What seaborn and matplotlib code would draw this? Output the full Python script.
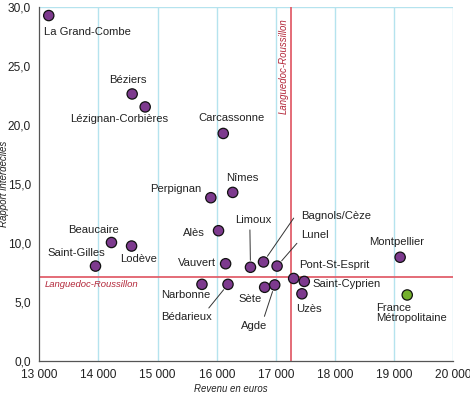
import pandas as pd
import matplotlib
matplotlib.use('Agg')
import matplotlib.pyplot as plt
import matplotlib.ticker as mticker
import seaborn as sns

# Data
villes = ['La Grand-Combe', 'Béziers', 'Lézignan-Corbières', 'Carcassonne', 'Nîmes',
          'Perpignan', 'Alès', 'Beaucaire', 'Lodève', 'Saint-Gilles', 'Vauvert',
          'Narbonne', 'Bédarieux', 'Limoux', 'Bagnols/Cèze', 'Lunel', 'Sète', 'Agde',
          'Pont-St-Esprit', 'Saint-Cyprien', 'Uzès', 'Montpellier', 'France\nMétropolitaine']
revenu = [13160, 14570, 14790, 16110, 16270, 15900, 16030, 14220, 14560, 13950, 16150,
          15750, 16190, 16570, 16790, 17020, 16810, 16980, 17300, 17480, 17440, 19100, 19220]
rapport = [29.3, 22.65, 21.55, 19.3, 14.3, 13.85, 11.05, 10.05, 9.75, 8.05, 8.25,
           6.5, 6.5, 7.95, 8.4, 8.05, 6.25, 6.45, 7.0, 6.75, 5.7, 8.8, 5.6]
groupe = ['Commune'] * 22 + ['France']

ref_revenu = 17260   # Languedoc-Roussillon revenue
ref_rapport = 7.12   # Languedoc-Roussillon ratio

# label offsets in pixels (dx, dy), horizontal alignment, leader line relpos
labels = {
    'La Grand-Combe': (-5, -16, 'left', None),
    'Béziers': (-4, 14, 'center', None),
    'Lézignan-Corbières': (-26, -12, 'center', None),
    'Carcassonne': (8, 15, 'center', None),
    'Nîmes': (10, 14, 'center', None),
    'Perpignan': (-9, 9, 'right', None),
    'Alès': (-14, -2, 'right', None),
    'Beaucaire': (-18, 13, 'center', None),
    'Lodève': (7, -13, 'center', None),
    'Saint-Gilles': (-19, 13, 'center', None),
    'Vauvert': (-10, 1, 'right', None),
    'Narbonne': (-16, -11, 'center', None),
    'Bédarieux': (-41, -33, 'center', (0.86, 1.0)),
    'Limoux': (3, 47, 'center', (0.4, 0.0)),
    'Bagnols/Cèze': (38, 46, 'left', (-0.1, 0.4)),
    'Lunel': (24, 31, 'left', (-0.05, 0.0)),
    'Sète': (-15, -12, 'center', None),
    'Agde': (-21, -41, 'center', (0.85, 1.0)),
    'Pont-St-Esprit': (5, 13, 'left', None),
    'Saint-Cyprien': (8, -3, 'left', None),
    'Uzès': (7, -15, 'center', None),
    'Montpellier': (-3, 15, 'center', None),
    'France\nMétropolitaine': (-31, -18, 'left', None),
}

df = pd.DataFrame({'ville': villes, 'revenu': revenu, 'rapport': rapport, 'groupe': groupe})

sns.set_style('white')
plt.rcParams['font.family'] = ['Liberation Sans', 'DejaVu Sans']

fig = plt.figure(figsize=(4.7, 3.95), dpi=100)
ax = fig.add_axes([0.0836, 0.0861, 0.881, 0.8954])

grid_col = '#b5e3ee'
red = '#e2606c'
dark_red = '#b3283a'
txt = '#222222'

# vertical grid lines and top border
for v in range(14000, 20001, 1000):
    ax.axvline(v, color=grid_col, lw=1.0, zorder=0)
ax.axhline(30, color=grid_col, lw=1.0, zorder=0)

# reference lines
ax.axvline(ref_revenu, color=red, lw=1.3, zorder=1)
ax.axhline(ref_rapport, color=red, lw=1.3, zorder=1)

sns.scatterplot(data=df, x='revenu', y='rapport', hue='groupe',
                palette={'Commune': '#7d3a8e', 'France': '#74b02b'},
                s=55, edgecolor='#111111', linewidth=0.9, legend=False, zorder=3, ax=ax)

for v, r, name in zip(revenu, rapport, villes):
    dx, dy, ha, rel = labels[name]
    kw = {}
    if rel is not None:
        kw['arrowprops'] = dict(arrowstyle='-', color='#333333', lw=0.7,
                                relpos=rel, shrinkA=1, shrinkB=5)
    ax.annotate(name, xy=(v, r), xytext=(dx, dy), textcoords='offset pixels',
                ha=ha, va='center', fontsize=8.1, color=txt, linespacing=1.05,
                zorder=4, **kw)

# reference labels
ax.annotate('Languedoc-Roussillon', xy=(13000, ref_rapport), xytext=(5, -7),
            textcoords='offset pixels', ha='left', va='center', fontsize=6.8,
            style='italic', color=dark_red)
ax.annotate('Languedoc-Roussillon', xy=(ref_revenu, 30), xytext=(-8, -11),
            textcoords='offset pixels', ha='center', va='top', rotation=90,
            fontsize=6.9, style='italic', color=dark_red)

ax.set_xlim(13000, 20000)
ax.set_ylim(0, 30)
ax.set_xticks(range(13000, 20001, 1000))
ax.set_yticks([0, 5, 10, 15, 20, 25, 30])
ax.xaxis.set_major_formatter(mticker.FuncFormatter(lambda x, p: f'{int(x):,}'.replace(',', ' ')))
ax.yaxis.set_major_formatter(mticker.FuncFormatter(lambda y, p: f'{y:.1f}'.replace('.', ',')))
ax.tick_params(axis='both', direction='out', length=4, width=0.8, color='#555555',
               labelsize=8.6, labelcolor=txt, pad=2)

for side in ['top', 'right']:
    ax.spines[side].set_visible(False)
for side in ['left', 'bottom']:
    ax.spines[side].set_color('#555555')
    ax.spines[side].set_linewidth(0.9)

ax.set_xlabel('')
ax.set_ylabel('')
fig.text(230.8 / 470, 1 - 389 / 395, 'Revenu en euros', ha='center', va='center',
         fontsize=6.9, style='italic', color=txt)
fig.text(4.5 / 470, 1 - 184 / 395, 'Rapport interdéciles', ha='center', va='center',
         rotation=90, fontsize=7.0, style='italic', color=txt)

fig.savefig('out.png', dpi=100)
